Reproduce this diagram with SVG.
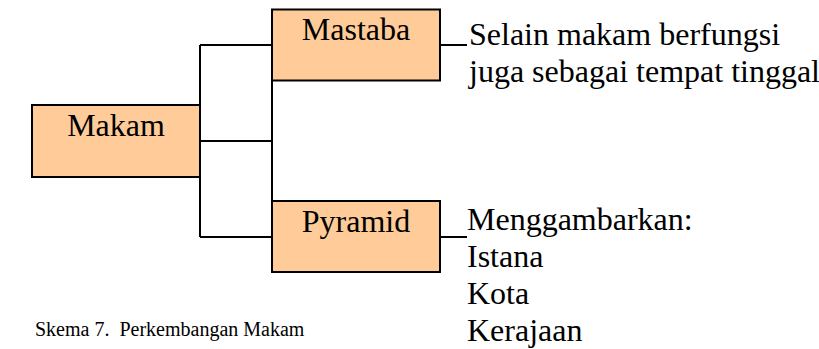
<svg xmlns="http://www.w3.org/2000/svg" width="819" height="349" viewBox="0 0 819 349">
<style>
.box{fill:#FFCC99;stroke:#000;stroke-width:2}
.ln{fill:none;stroke:#000;stroke-width:2}
.t{font-family:"Liberation Serif","Times New Roman",serif;font-size:32px;fill:#000}
.c{font-family:"Liberation Serif","Times New Roman",serif;font-size:20px;fill:#000;white-space:pre}
</style>
<rect width="819" height="349" fill="#fff"/>
<g id="connectors">
<path class="ln" d="M200,45 V237 M200,45 H272 M200,141 H272 M200,237 H272 M272,80 V201 M440,45 H467 M440,237 H467"/>
</g>
<g id="makam">
<rect class="box" x="32" y="105" width="168" height="72"/>
<text class="t" x="116" y="136" text-anchor="middle">Makam</text>
</g>
<g id="mastaba">
<rect class="box" x="272" y="9.5" width="168" height="71"/>
<text class="t" x="356" y="40" text-anchor="middle">Mastaba</text>
</g>
<g id="pyramid">
<rect class="box" x="272" y="201" width="168" height="71"/>
<text class="t" x="356" y="232" text-anchor="middle">Pyramid</text>
</g>
<g id="mastaba-note">
<text class="t" x="469" y="45">Selain makam berfungsi</text>
<text class="t" x="469" y="82">juga sebagai tempat tinggal</text>
</g>
<g id="pyramid-note">
<text class="t" x="467" y="230">Menggambarkan:</text>
<text class="t" x="467" y="267">Istana</text>
<text class="t" x="467" y="304">Kota</text>
<text class="t" x="467" y="341">Kerajaan</text>
</g>
<g id="caption">
<text class="c" x="35" y="336" xml:space="preserve">Skema 7.  Perkembangan Makam</text>
</g>
</svg>
